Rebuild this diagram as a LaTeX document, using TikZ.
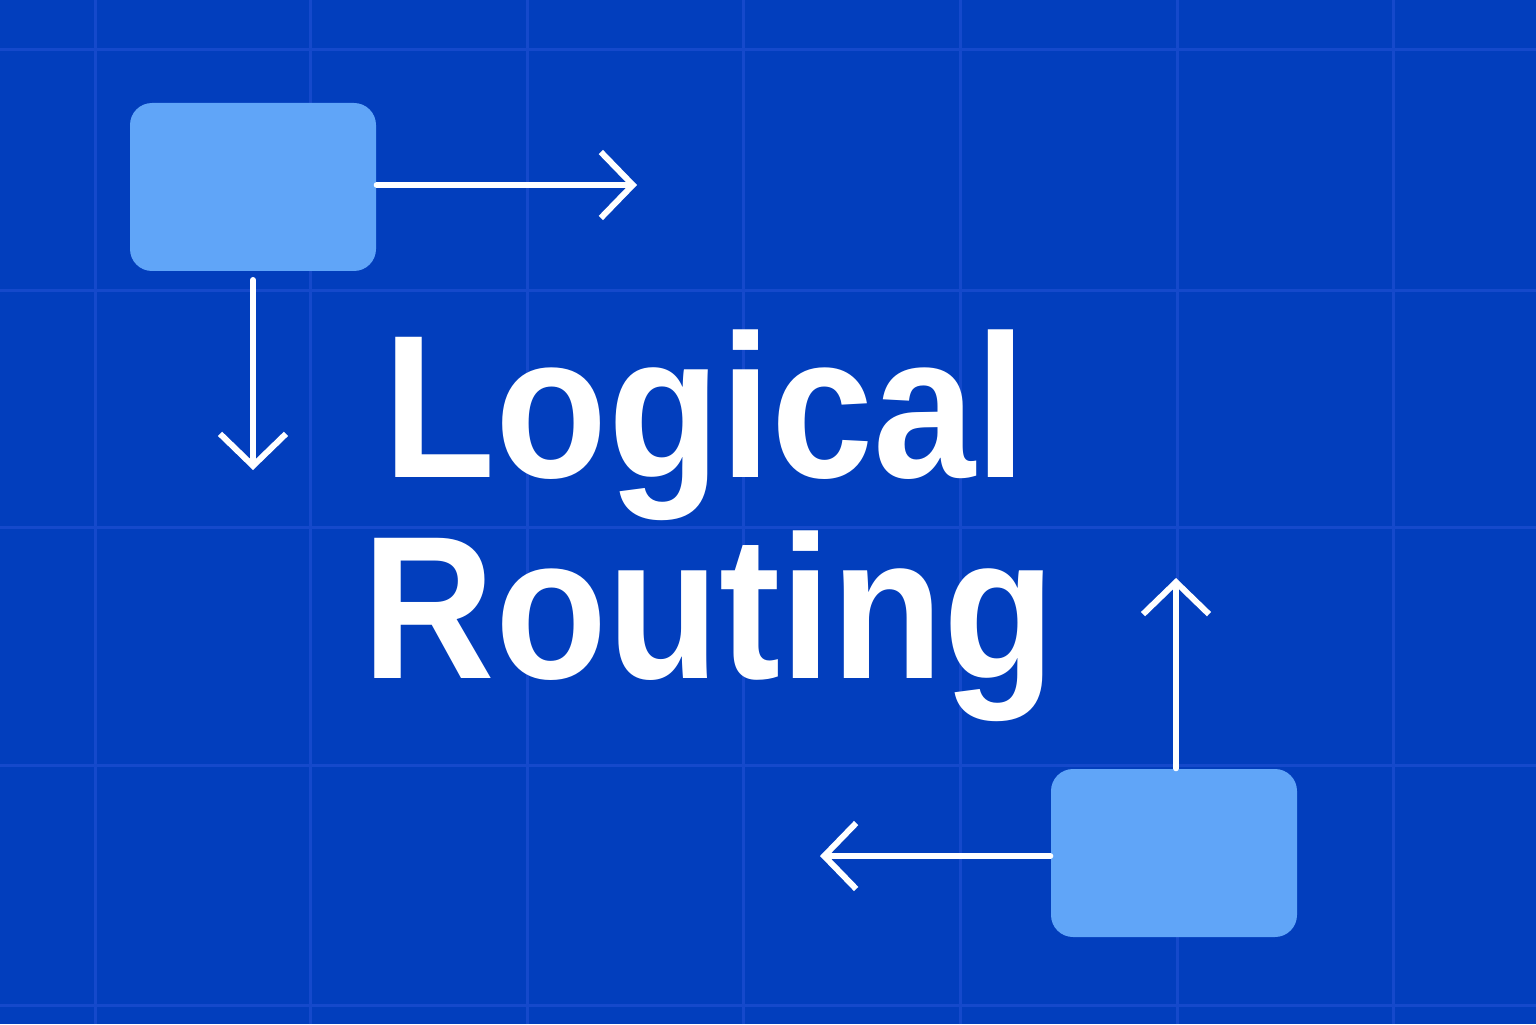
\documentclass[tikz,border=0pt]{standalone}
\usepackage{fontspec}
\setmainfont{Liberation Sans}[FakeStretch=0.9]
\usetikzlibrary{arrows.meta,positioning}
\definecolor{bgblue}{HTML}{023EBD}
\definecolor{gridblue}{HTML}{1549CB}
\definecolor{boxblue}{HTML}{60A5F8}
\tikzset{
  box/.style={fill=boxblue, rounded corners=0.22cm, minimum width=2.46cm, minimum height=1.68cm, inner sep=0},
  route/.style={white, line width=0.06cm, line cap=round, -{Straight Barb[length=0.32cm, width=0.66cm, line width=0.06cm]}},
  title/.style={white, font=\fontsize{58}{58}\selectfont\bfseries, inner sep=0, anchor=base}
}
\begin{document}
\begin{tikzpicture}
                \fill[bgblue] (0,0) rectangle (15.36,10.24);
                \useasboundingbox (0,0) rectangle (15.36,10.24);
                \foreach \x in {0.95,3.10,5.27,7.43,9.60,11.77,13.93}
                  \draw[gridblue, line width=0.03cm] (\x,0) -- (\x,10.24);
                \foreach \y in {0.19,2.59,4.97,7.34,9.74}
                  \draw[gridblue, line width=0.03cm] (0,\y) -- (15.36,\y);
                \node[box] (src) at (2.53,8.37) {};
                \node[box] (dst) at (11.74,1.71) {};
                \coordinate (eastEnd) at (6.37,8.39);
                \coordinate (downStart) at (2.53,7.44);
                \coordinate (downEnd) at (2.53,5.54);
                \coordinate (upEnd) at (11.76,4.46);
                \coordinate (westEnd) at (8.20,1.68);
                \draw[route] (src.east |- eastEnd) -- (eastEnd);
                \draw[route] (downStart) -- (downEnd);
                \draw[route] (dst.north -| upEnd) -- (upEnd);
                \draw[route] (dst.west |- westEnd) -- (westEnd);
                \node[title] (logical) at (7.05,5.47) {Logical};
                \node[title] (routing) at (7.09,3.46) {Routing};
        \end{tikzpicture}
\end{document}
